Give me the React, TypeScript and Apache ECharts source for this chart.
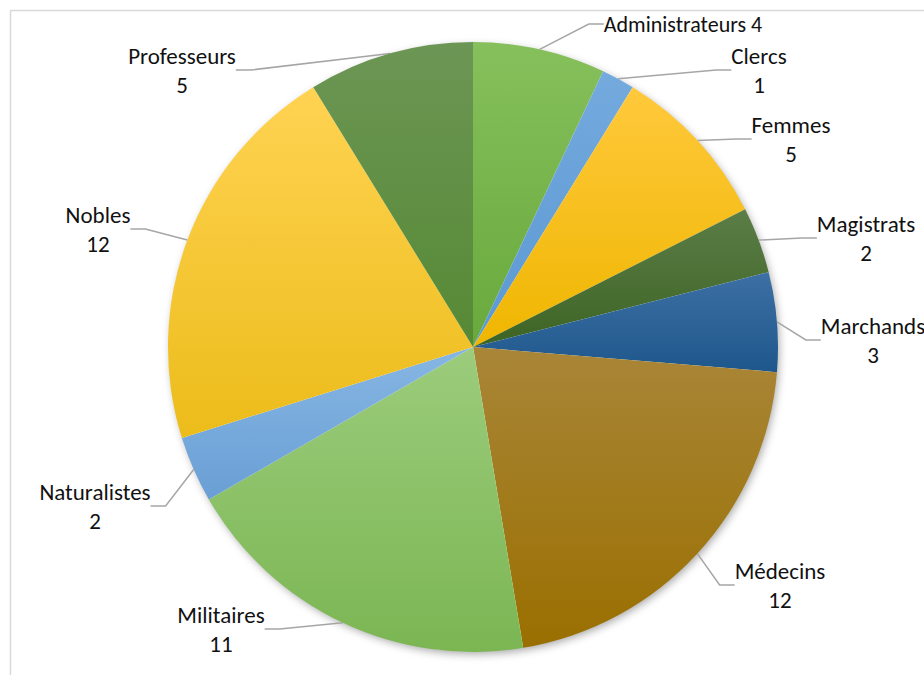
import React, { useEffect, useRef } from "react";
import * as echarts from "echarts";

const categories = [
  "Administrateurs",
  "Clercs",
  "Femmes",
  "Magistrats",
  "Marchands",
  "Médecins",
  "Militaires",
  "Naturalistes",
  "Nobles",
  "Professeurs",
];
const values = [4, 1, 5, 2, 3, 12, 11, 2, 12, 5];

// gradient colours per slice: [top, bottom]
const sliceColors: [string, string][] = [
  ["#86c05c", "#68a93c"],
  ["#74aade", "#5b98d2"],
  ["#ffc93c", "#efb600"],
  ["#5b7d47", "#3d6424"],
  ["#3d70a4", "#1e578c"],
  ["#a98638", "#9a6f00"],
  ["#9ccc7c", "#7bb653"],
  ["#86b6e3", "#6a9fd5"],
  ["#ffd352", "#ecbc1a"],
  ["#6c9655", "#568934"],
];

// label anchor (centre of text block) in page pixels
const labelPos: [number, number][] = [
  [683, 24],
  [759, 70],
  [791, 139],
  [866, 238],
  [873, 340],
  [780, 585],
  [221, 629],
  [95, 506],
  [98, 229],
  [182, 70],
];

const FONT = "Carlito, Calibri, Lato, sans-serif";

export default function App() {
  const ref = useRef<HTMLDivElement>(null);
  useEffect(() => {
    if (!ref.current) return;
    const chart = echarts.init(ref.current, null, { renderer: "svg" });
    const data = categories.map((name, i) => ({
      name,
      value: values[i],
      itemStyle: {
        color: new echarts.graphic.LinearGradient(0, 0, 0, 1, [
          { offset: 0, color: sliceColors[i][0] },
          { offset: 1, color: sliceColors[i][1] },
        ]),
      },
      label:
        i === 0
          ? {
              formatter: "{b} {c}",
              fontFamily: FONT,
              fontSize: 22,
              lineHeight: 26,
              color: "#111111",
            }
          : undefined,
    }));
    chart.setOption({
      animation: false,
      backgroundColor: "#ffffff",
      graphic: [
        {
          type: "rect",
          z: -10,
          shape: { x: 10.5, y: 10.5, width: 960, height: 700 },
          style: { fill: "none", stroke: "#d9d9d9", lineWidth: 1.5 },
        },
        {
          type: "circle",
          z: -5,
          shape: { cx: 473, cy: 347, r: 304 },
          style: {
            fill: "#ffffff",
            shadowBlur: 8,
            shadowColor: "rgba(0,0,0,0.35)",
            shadowOffsetX: 2,
            shadowOffsetY: 3,
          },
        },
      ],
      series: [
        {
          type: "pie",
          center: [473, 347],
          radius: 305,
          startAngle: 90,
          clockwise: true,
          avoidLabelOverlap: false,
          data,
          itemStyle: { borderWidth: 0 },
          label: {
            show: true,
            position: "outside",
            formatter: "{b}\n{c}",
            fontFamily: FONT,
            fontSize: 23,
            lineHeight: 29,
            color: "#111111",
            align: "center",
          },
          labelLine: {
            show: true,
            length: 15,
            length2: 15,
            lineStyle: { color: "#a6a6a6", width: 1.5 },
          },
          labelLayout: (params: any) => {
            const p = labelPos[params.dataIndex];
            return {
              x: p[0],
              y: p[1],
              align: "center",
              verticalAlign: "middle",
            };
          },
          emphasis: { disabled: true },
        },
      ],
    });
    return () => chart.dispose();
  }, []);
  return (
    <div
      ref={ref}
      style={{ position: "fixed", left: 0, top: 0, width: 924, height: 675 }}
    />
  );
}
